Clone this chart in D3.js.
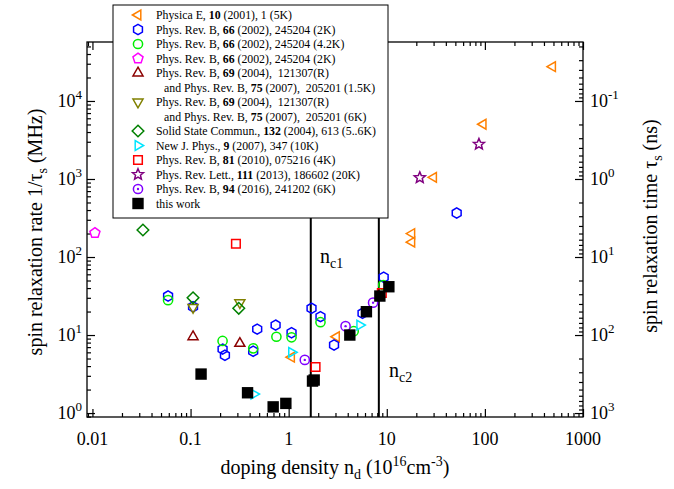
<!DOCTYPE html>
<html><head><meta charset="utf-8">
<script src="https://cdn.jsdelivr.net/npm/d3@7"></script>
<style>body{margin:0;background:#fff} text{font-family:"Liberation Serif","Times New Roman",serif;fill:#000}</style>
</head><body><svg id="c" width="674" height="489"></svg>
<script>
// ---- data (x: doping density 1e16 cm^-3, y: spin relaxation rate MHz)
const physicaE  = [[490,27500],[96,5030],[30,1050],[18,200],[18,155],[3.07,9.5],[1.07,5.2]];
const prb66_2K  = [[51.6,366],[0.059,31.6],[0.106,23],[0.478,11.9],[0.736,13.4],[1.07,10.7],[0.212,6.6],[0.224,5.5],[0.435,6.2],[1.71,22],[2.11,17.2],[2.9,7.45],[5.66,19],[9.3,55]];
const prb66_42K = [[0.059,28],[0.75,9.5],[1.07,9.35],[0.212,8.4],[0.435,6.75],[2.11,14.6],[4.6,11.2],[9.2,43.8]];
const prb66_2Kb = [[0.0106,203]];
const prb69_15K = [[0.106,9.5],[0.318,7.8]];
const prb69_6K  = [[0.106,22.6],[0.318,26]];
const ssc132    = [[0.0327,222],[0.106,30],[0.31,22]];
const njp9      = [[0.442,1.75],[1.07,6.0],[5.3,13.4]];
const prb81     = [[0.29,148],[1.88,3.9],[8.9,34.5]];
const prl111    = [[21.7,1040],[87,2790]];
const prb94     = [[1.46,4.8],[3.8,13],[7.25,26]];
const thisWork  = [[0.128,3.16],[0.381,1.82],[0.695,1.2],[0.936,1.33],[1.75,2.57],[1.82,2.65],[4.2,10],[6.2,19.9],[8.5,31.6],[10.5,41.6]];
const critical  = [["c1",1.68],["c2",8.3]];
const xTickLabels = ["0.01","0.1","1","10","100","1000"];
const yTickExps = ["0","1","2","3","4"];
const tauTickExps = ["-1","0","1","2","3"];
const legendLabels = [
  ["Physica E, **10** (2001), 1 (5K)"],
  ["Phys. Rev. B, **66** (2002), 245204 (2K)"],
  ["Phys. Rev. B, **66** (2002), 245204 (4.2K)"],
  ["Phys. Rev. B, **66** (2002), 245204 (2K)"],
  ["Phys. Rev. B, **69** (2004),  121307(R)","and Phys. Rev. B, **75** (2007),  205201 (1.5K)"],
  ["Phys. Rev. B, **69** (2004),  121307(R)","and Phys. Rev. B, **75** (2007),  205201 (6K)"],
  ["Solid State Commun., **132** (2004), 613 (5..6K)"],
  ["New J. Phys., **9** (2007), 347 (10K)"],
  ["Phys. Rev. B, **81** (2010), 075216 (4K)"],
  ["Phys. Rev. Lett., **111** (2013), 186602 (20K)"],
  ["Phys. Rev. B, **94** (2016), 241202 (6K)"],
  ["this work"]
];

const seriesList = [
  {data:physicaE,  shape:"triLeft",  color:"#ff8000"},
  {data:prb66_2K,  shape:"hexagon",  color:"#0000ff"},
  {data:prb66_42K, shape:"circle",   color:"#00ee00"},
  {data:prb66_2Kb, shape:"pentagon", color:"#ff00ff"},
  {data:prb69_15K, shape:"triUp",    color:"#8b0000"},
  {data:prb69_6K,  shape:"triDown",  color:"#808000"},
  {data:ssc132,    shape:"diamond",  color:"#008000"},
  {data:njp9,      shape:"triRight", color:"#00e5ff"},
  {data:prb81,     shape:"square",   color:"#ff0000"},
  {data:prl111,    shape:"star",     color:"#800080"},
  {data:prb94,     shape:"circleDot",color:"#8000ff"},
  {data:thisWork,  shape:"filledSquare", color:"#000"}
];

const svg = d3.select("#c");
const L=87, R=583, T=42, B=417;
const x = d3.scaleLog().domain([0.0088,1000]).range([L,R]);
const y = d3.scaleLog().domain([0.89,57000]).range([B,T]);
const tau = d3.scaleLog().domain([1000/0.89,1000/57000]).range([B,T]);

function poly(n, r, rot){
  const pts=[];
  for(let k=0;k<n;k++){const a=(rot+360*k/n)*Math.PI/180; pts.push([r*Math.cos(a), r*Math.sin(a)]);}
  return "M"+pts.map(p=>p[0].toFixed(2)+","+p[1].toFixed(2)).join("L")+"Z";
}
function starPath(ro, ri){
  const pts=[];
  for(let k=0;k<10;k++){const r=k%2?ri:ro; const a=(-90+36*k)*Math.PI/180; pts.push([r*Math.cos(a), r*Math.sin(a)]);}
  return "M"+pts.map(p=>p[0].toFixed(2)+","+p[1].toFixed(2)).join("L")+"Z";
}
const shapes = {
  triLeft: poly(3,5.6,180), triRight: poly(3,5.6,0), triUp: poly(3,5.8,-90), triDown: poly(3,5.8,90),
  hexagon: poly(6,5.1,-90), pentagon: poly(5,5.3,-90), diamond: poly(4,5.8,-90),
  square: "M-4.3,-4.3L4.3,-4.3L4.3,4.3L-4.3,4.3Z", filledSquare: "M-5.7,-5.7L5.7,-5.7L5.7,5.7L-5.7,5.7Z",
  star: starPath(5.8,2.6)
};
function drawMarker(g, shape, color){
  if(shape==="circle"||shape==="circleDot"){
    g.append("circle").attr("r",4.6).attr("fill","none").attr("stroke",color).attr("stroke-width",1.5);
    if(shape==="circleDot") g.append("circle").attr("r",1.2).attr("fill",color);
  } else if(shape==="filledSquare"){
    g.append("path").attr("d",shapes[shape]).attr("fill",color);
  } else {
    g.append("path").attr("d",shapes[shape]).attr("fill","none").attr("stroke",color).attr("stroke-width",1.5);
  }
}

// ---- axes (inward ticks)
const majX = [0.01,0.1,1,10,100,1000];
const minX = []; for(let k=-3;k<=2;k++) for(let m=2;m<=9;m++){const v=m*Math.pow(10,k); if(v>0.0088&&v<1000) minX.push(v);}
const majY = [1,10,100,1000,10000];
const minY = []; for(let k=-1;k<=4;k++) for(let m=2;m<=9;m++){const v=m*Math.pow(10,k); if(v>0.89&&v<57000) minY.push(v);}
const majT = [0.1,1,10,100,1000];
const minT = []; for(let k=-2;k<=2;k++) for(let m=2;m<=9;m++){const v=m*Math.pow(10,k); if(v>1000/57000&&v<1000/0.89) minT.push(v);}

function addAxis(axisFn, scale, vals, size, tr){
  const g = svg.append("g").attr("transform",tr)
    .call(axisFn(scale).tickValues(vals).tickSize(-size).tickSizeOuter(0).tickFormat(""));
  g.select(".domain").remove();
  g.selectAll("line").attr("stroke","#000").attr("stroke-width",1.2);
}
addAxis(d3.axisBottom, x, majX, 8, `translate(0,${B})`);
addAxis(d3.axisBottom, x, minX, 4, `translate(0,${B})`);
addAxis(d3.axisTop, x, majX, 8, `translate(0,${T})`);
addAxis(d3.axisTop, x, minX, 4, `translate(0,${T})`);
addAxis(d3.axisLeft, y, majY, 8, `translate(${L},0)`);
addAxis(d3.axisLeft, y, minY, 4, `translate(${L},0)`);
addAxis(d3.axisRight, tau, majT, 8, `translate(${R},0)`);
addAxis(d3.axisRight, tau, minT, 4, `translate(${R},0)`);
svg.append("rect").attr("x",L).attr("y",T).attr("width",R-L).attr("height",B-T)
  .attr("fill","none").attr("stroke","#000").attr("stroke-width",1.3);

// tick labels
majX.forEach((v,i)=>svg.append("text").attr("x",x(v)).attr("y",445).attr("text-anchor","middle")
  .attr("font-size",18).text(xTickLabels[i]));
function powLabel(xp, yp, exp, anchor){
  const t = svg.append("text").attr("x",xp).attr("y",yp).attr("text-anchor",anchor).attr("font-size",18);
  t.append("tspan").text("10");
  t.append("tspan").attr("dy",-8).attr("font-size",13).text(exp);
}
majY.forEach((v,i)=>powLabel(82, y(v)+6, yTickExps[i], "end"));
majT.forEach((v,i)=>powLabel(590, tau(v)+6, tauTickExps[i], "start"));

// axis titles
const xt = svg.append("text").attr("x",(L+R)/2).attr("y",474).attr("text-anchor","middle").attr("font-size",20);
xt.append("tspan").text("doping density n");
xt.append("tspan").attr("dy",5).attr("font-size",14).text("d");
xt.append("tspan").attr("dy",-5).text(" (10");
xt.append("tspan").attr("dy",-8).attr("font-size",14).text("16");
xt.append("tspan").attr("dy",8).text("cm");
xt.append("tspan").attr("dy",-8).attr("font-size",14).text("-3");
xt.append("tspan").attr("dy",8).text(")");

const yt = svg.append("text").attr("transform","translate(42,232) rotate(-90)").attr("text-anchor","middle").attr("font-size",20);
yt.append("tspan").text("spin relaxation rate 1/τ");
yt.append("tspan").attr("dy",5).attr("font-size",14).text("s");
yt.append("tspan").attr("dy",-5).text(" (MHz)");

const rt = svg.append("text").attr("transform","translate(657,226) rotate(-90)").attr("text-anchor","middle").attr("font-size",20);
rt.append("tspan").text("spin relaxation time τ");
rt.append("tspan").attr("dy",5).attr("font-size",14).text("s");
rt.append("tspan").attr("dy",-5).text(" (ns)");

// critical density lines
critical.forEach(([lab,v])=>{
  svg.append("line").attr("x1",x(v)).attr("x2",x(v)).attr("y1",B).attr("y2",T)
    .attr("stroke","#000").attr("stroke-width",2);
});
const labPos = [[320,263],[389,377]];
critical.forEach(([lab,v],i)=>{
  const t = svg.append("text").attr("x",labPos[i][0]).attr("y",labPos[i][1]).attr("font-size",20);
  t.append("tspan").text("n");
  t.append("tspan").attr("dy",5).attr("font-size",14).text(lab);
});

// data markers
seriesList.forEach(s=>{
  s.data.forEach(d=>{
    const g = svg.append("g").attr("transform",`translate(${x(d[0])},${y(d[1])})`);
    drawMarker(g, s.shape, s.color);
  });
});

// legend
const lg = svg.append("g");
lg.append("rect").attr("x",113).attr("y",5).attr("width",275).attr("height",213)
  .attr("fill","#fff").attr("stroke","#000").attr("stroke-width",1);
let row = 0;
function richText(xp, yp, str){
  const t = lg.append("text").attr("x",xp).attr("y",yp).attr("font-size",11.8).attr("xml:space","preserve");
  str.split("**").forEach((part,i)=>{ if(part) t.append("tspan").attr("font-weight",i%2?"bold":"normal").text(part); });
}
legendLabels.forEach((lines,i)=>{
  const cy = 15 + row*14.5;
  const g = lg.append("g").attr("transform",`translate(138,${cy})`);
  drawMarker(g, seriesList[i].shape, seriesList[i].color);
  richText(156, cy+4, lines[0]);
  row++;
  if(lines[1]){ richText(164, 15+row*14.5+4, lines[1]); row++; }
});
</script></body></html>
